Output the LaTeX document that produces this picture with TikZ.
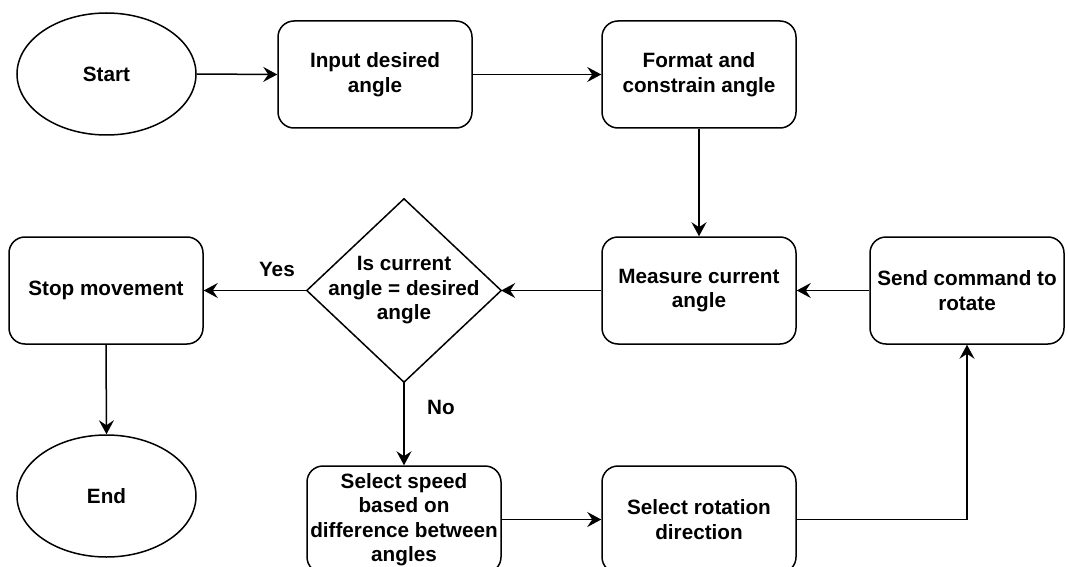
\documentclass[tikz,border=0pt]{standalone}
\usepackage{fontspec}
\setmainfont{Liberation Sans}
\usetikzlibrary{arrows.meta,shapes.geometric,calc}
\begin{document}
\begin{tikzpicture}[x=1pt,y=-1pt,
  every node/.style={font=\fontsize{20.7}{24.5}\selectfont\bfseries, align=center, inner sep=0pt},
  proc/.style={draw, line width=1.5pt, rounded corners=16pt, minimum width=194pt, minimum height=107pt},
  term/.style={draw, ellipse, line width=1.5pt, minimum width=179pt, minimum height=122pt},
  flow/.style={line width=1.5pt, -{Stealth[length=14pt,width=15pt,inset=5pt]}}
]
\useasboundingbox (0,0) rectangle (1068,567);

% terminals
\node[term] (start) at (106.5,74) {Start};
\node[term] (finish) at (106.5,496) {End};

% process steps
\node[proc] (input)   at (375,74.5)  {Input desired\\angle};
\node[proc] (format)  at (699,74.5)  {Format and\\constrain angle};
\node[proc] (measure) at (699,290.5) {Measure current\\angle};
\node[proc] (send)    at (967,290.5) {Send command to\\rotate};
\node[proc] (stop)    at (106,290.5) {Stop movement};
\node[proc] (speed)   at (404,519.5) {Select speed\\based on\\difference between\\angles};
\node[proc] (rot)     at (699,519.5) {Select rotation\\direction};

% decision
\node[minimum width=194pt, minimum height=183pt] (dec) at (404,290.5) {Is current\\angle = desired\\angle};
\draw[line width=1.5pt, line join=miter] (dec.north) -- (dec.east) -- (dec.south) -- (dec.west) -- cycle;

% connectors
\draw[flow] (start.east) -- (input.west);
\draw[flow] (input.east) -- (format.west);
\draw[flow] (format.south) -- (measure.north);
\draw[flow] (measure.west) -- (dec.east);
\draw[flow] (send.west) -- (measure.east);
\draw[flow] (dec.west) -- node[pos=0.29, yshift=21pt] {Yes} (stop.east);
\draw[flow] (dec.south) -- node[pos=0.3, xshift=37pt] {No} (speed.north);
\draw[flow] (stop.south) -- (finish.north);
\draw[flow] (speed.east) -- (rot.west);
\draw[flow] (rot.east) -| (send.south);
\end{tikzpicture}
\end{document}
